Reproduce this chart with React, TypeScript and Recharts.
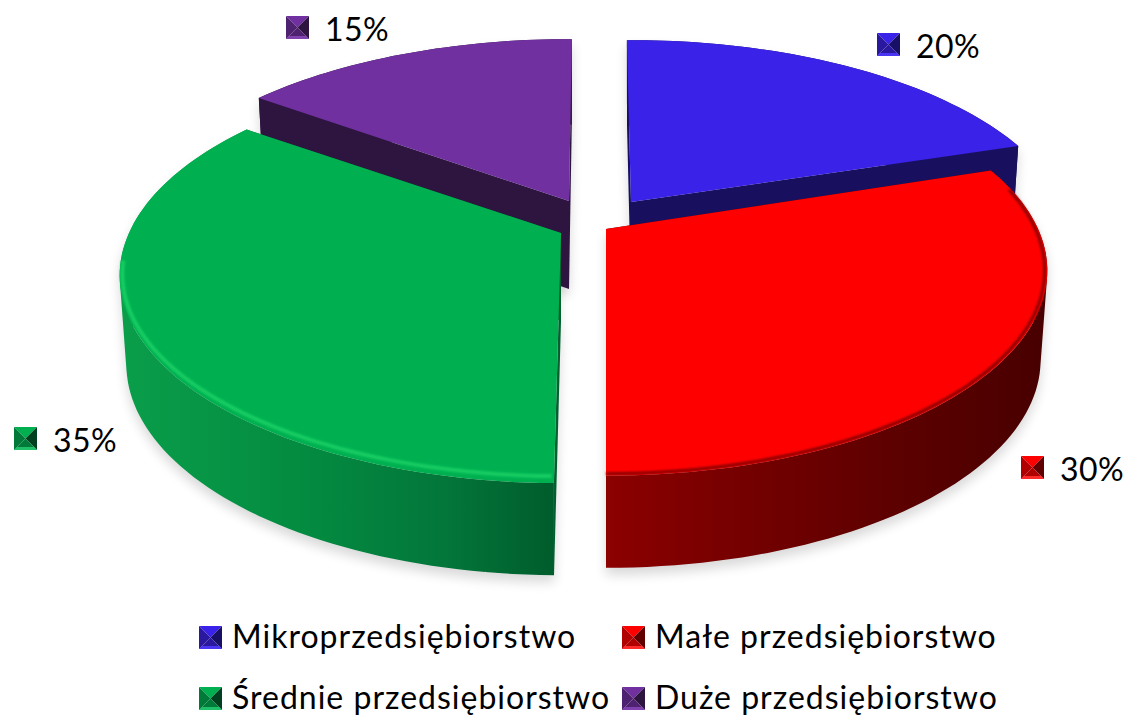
import { PieChart, Pie, Legend } from 'recharts';

const CATEGORIES = ['Mikroprzedsiębiorstwo', 'Małe przedsiębiorstwo', 'Średnie przedsiębiorstwo', 'Duże przedsiębiorstwo'];
const SHARES = [20, 30, 35, 15];
// painter's order: back slices first, so the front ones cover their walls
const DRAW_ORDER = [3, 0, 1, 2];

const pieData = DRAW_ORDER.map((i) => ({ name: CATEGORIES[i], value: SHARES[i] }));

const WIDTH = 1129;
const HEIGHT = 715;
const CENTER = { x: 590, y: 217 };
const RADIUS = 432;

// perspective of the pie plane
const PERSPECTIVE = 0.204;
const TILT = 0.451;
const WALL = 88;
const BOTTOM_NARROW = 0.985;

// per slice look, same order as CATEGORIES
const EXPLODE = [[41, -15], [16, 12], [-29, 16], [-21, -16]];
const SPIN = [[-0.65, 0.2], [-0.5, 0], [0.75, -0.5], [0.4, 0.45]];
const STRETCH = [1, 1.008, 1.022, 1];
const TOP_FILL = ['#3a22e8', '#ff0000', '#00b050', '#7030a0'];
const WALL_FILL = ['#18105f', '#4d0000', '#006030', '#2e1540'];
const SIDE_FILL = ['url(#sideBlue)', 'url(#sideRed)', 'url(#sideGreen)', 'url(#sidePurple)'];
const RIM = [null, { from: 78, to: 180, stroke: '#8a0000', width: 3 }, { from: 181, to: 262, stroke: '#14cc62', width: 4 }, null];
const MARKER_TONES = [
  ['#3a22e8', '#2a189f', '#181066', '#4a36f2'],
  ['#ff0000', '#b00000', '#600000', '#ff2a2a'],
  ['#00b050', '#007a38', '#00401e', '#20c068'],
  ['#7030a0', '#4e2270', '#2e1540', '#7f42ae'],
];
const LABEL_AT = [[877, 33], [1021, 456], [14, 427], [286, 16]];
const LEGEND_AT = [[199, 11], [622, 11], [199, 72], [622, 72]];

const FONT = 'Lato, sans-serif';

function point(theta: number, r: number, cx: number, cy: number, R: number, lower: boolean, stretch = 1) {
  const rad = (theta * Math.PI) / 180;
  const X = Math.sin(rad) * r;
  const Z = -Math.cos(rad) * r;
  const s = 1 / (1 - PERSPECTIVE * Z);
  return {
    x: cx + R * X * s * (lower ? BOTTOM_NARROW : 1),
    y: cy + R * TILT * Z * s * stretch + (lower ? WALL + (s - 1) * 16 : 0),
    z: Z,
  };
}

function arc(from: number, to: number, cx: number, cy: number, R: number, lower: boolean, stretch = 1) {
  const pts = [];
  const steps = Math.max(2, Math.ceil(Math.abs(to - from) / 1.5));
  for (let i = 0; i <= steps; i++) {
    pts.push(point(from + ((to - from) * i) / steps, 1, cx, cy, R, lower, stretch));
  }
  return pts;
}

const toPath = (pts: { x: number; y: number }[]) =>
  'M' + pts.map((p) => `${p.x.toFixed(1)},${p.y.toFixed(1)}`).join('L') + 'Z';
const toLine = (pts: { x: number; y: number }[]) =>
  'M' + pts.map((p) => `${p.x.toFixed(1)},${p.y.toFixed(1)}`).join('L');

// the outer wall as one quad per arc step, so the silhouette past the widest point is filled
function wallPath(topArc: { x: number; y: number }[], lowArc: { x: number; y: number }[]) {
  let d = '';
  for (let i = 0; i < topArc.length - 1; i++) {
    const quad = [topArc[i], topArc[i + 1], lowArc[i + 1], lowArc[i]];
    const area = quad.reduce((sum, p, k) => {
      const q = quad[(k + 1) % 4];
      return sum + p.x * q.y - q.x * p.y;
    }, 0);
    d += toPath(area < 0 ? [...quad].reverse() : quad);
  }
  return d;
}

function sliceGeometry(props: any) {
  const idx = CATEGORIES.indexOf(props.name ?? props.payload?.name);
  const cx = props.cx + EXPLODE[idx][0];
  const cy = props.cy + EXPLODE[idx][1];
  const R = props.outerRadius;
  const from = 90 - props.startAngle + SPIN[idx][0];
  const to = 90 - props.endAngle + SPIN[idx][1];
  const apexTop = point(0, 0, cx, cy, R, false);
  const apexLow = point(0, 0, cx, cy, R, true);
  const topArc = arc(from, to, cx, cy, R, false, STRETCH[idx]);
  const lowArc = arc(from, to, cx, cy, R, true, STRETCH[idx]);
  return { idx, cx, cy, R, from, to, apexTop, apexLow, topArc, lowArc };
}

function ShadowSlice(props: any) {
  const { apexTop, apexLow, topArc, lowArc } = sliceGeometry(props);
  return (
    <g filter="url(#softShadow)" opacity={0.15} transform="translate(0,7)">
      <path d={toPath([apexLow, ...lowArc])} fill="#000" />
      <path d={wallPath(topArc, lowArc)} fill="#000" />
      <path d={toPath([apexTop, ...topArc])} fill="#000" />
    </g>
  );
}

function SolidSlice(props: any) {
  const { idx, cx, cy, R, apexTop, apexLow, topArc, lowArc } = sliceGeometry(props);
  const rim = RIM[idx];
  const wallDark = WALL_FILL[idx];
  const firstTop = topArc[0];
  const firstLow = lowArc[0];
  const lastTop = topArc[topArc.length - 1];
  const lastLow = lowArc[lowArc.length - 1];
  let rimPts: { x: number; y: number }[] = [];
  if (rim) {
    // the bevel only shows on the near edge, it lifts off towards the viewer
    rimPts = arc(rim.from, rim.to, cx, cy, R, false, STRETCH[idx]).map((p) => ({
      x: cx + (p.x - cx) * 0.994,
      y: p.y - (idx === 2 ? 7 : 2) * Math.max(0, p.z),
    }));
  }
  return (
    <g>
      <path d={toPath([firstTop, apexTop, apexLow, firstLow])} fill={wallDark} />
      <path d={toPath([lastTop, apexTop, apexLow, lastLow])} fill={wallDark} />
      <path d={wallPath(topArc, lowArc)} fill={SIDE_FILL[idx]} />
      <path d={toPath([apexTop, ...topArc])} fill={TOP_FILL[idx]} />
      {rim && (
        <path d={toLine(rimPts)} fill="none" stroke={rim.stroke} strokeWidth={rim.width} filter="url(#rimBlur)" />
      )}
    </g>
  );
}

function Marker({ x, y, idx }: { x: number; y: number; idx: number }) {
  const size = 23;
  const [top, left, right, bottom] = MARKER_TONES[idx];
  const mx = x + size / 2;
  const my = y + size / 2;
  return (
    <g>
      <polygon points={`${x},${y} ${x + size},${y} ${mx},${my}`} fill={top} />
      <polygon points={`${x},${y} ${mx},${my} ${x},${y + size}`} fill={left} />
      <polygon points={`${x + size},${y} ${x + size},${y + size} ${mx},${my}`} fill={right} />
      <polygon points={`${x},${y + size} ${mx},${my} ${x + size},${y + size}`} fill={left} />
      <polygon points={`${x + 3},${y + size - 3} ${x + size - 3},${y + size - 3} ${x + size},${y + size} ${x},${y + size}`} fill={bottom} />
    </g>
  );
}

function ValueLabel(props: any) {
  const idx = CATEGORIES.indexOf(props.name ?? props.payload?.name);
  const [x, y] = LABEL_AT[idx];
  return (
    <g>
      <Marker x={x} y={y} idx={idx} />
      <text x={x + 39} y={y + 25} fontFamily={FONT} fontSize={32} letterSpacing={0.4} fill="#000" textAnchor="start">
        {`${SHARES[idx]}%`}
      </text>
    </g>
  );
}

function LegendRows() {
  return (
    <svg width={WIDTH} height={100} style={{ display: 'block' }}>
      {CATEGORIES.map((name, i) => (
        <g key={name}>
          <Marker x={LEGEND_AT[i][0]} y={LEGEND_AT[i][1]} idx={i} />
          <text x={LEGEND_AT[i][0] + 33} y={LEGEND_AT[i][1] + 22} fontFamily={FONT} fontSize={32} letterSpacing={1} fill="#000">
            {name}
          </text>
        </g>
      ))}
    </svg>
  );
}

export default function App() {
  return (
    <div style={{ position: 'absolute', left: 0, top: 0, width: WIDTH, height: HEIGHT, background: '#fff' }}>
      <PieChart width={WIDTH} height={HEIGHT} margin={{ top: 0, right: 0, bottom: 0, left: 0 }}>
        <defs>
          <filter id="softShadow" x="-15%" y="-15%" width="130%" height="130%">
            <feGaussianBlur stdDeviation="6" />
          </filter>
          <filter id="rimBlur" x="-5%" y="-5%" width="110%" height="110%">
            <feGaussianBlur stdDeviation="1.2" />
          </filter>
          <linearGradient id="sideGreen" gradientUnits="userSpaceOnUse" x1="117" y1="0" x2="555" y2="0">
            <stop offset="0%" stopColor="#0a9e4a" />
            <stop offset="45%" stopColor="#038a40" />
            <stop offset="75%" stopColor="#03763a" />
            <stop offset="100%" stopColor="#005c2c" />
          </linearGradient>
          <linearGradient id="sideRed" gradientUnits="userSpaceOnUse" x1="607" y1="0" x2="1047" y2="0">
            <stop offset="0%" stopColor="#8c0000" />
            <stop offset="35%" stopColor="#720000" />
            <stop offset="70%" stopColor="#5a0000" />
            <stop offset="100%" stopColor="#480000" />
          </linearGradient>
          <linearGradient id="sideBlue" gradientUnits="userSpaceOnUse" x1="627" y1="0" x2="1015" y2="0">
            <stop offset="0%" stopColor="#18105f" />
            <stop offset="100%" stopColor="#18105f" />
          </linearGradient>
          <linearGradient id="sidePurple" gradientUnits="userSpaceOnUse" x1="258" y1="0" x2="572" y2="0">
            <stop offset="0%" stopColor="#2e1540" />
            <stop offset="100%" stopColor="#2e1540" />
          </linearGradient>
        </defs>
        <Pie
          data={pieData}
          dataKey="value"
          nameKey="name"
          cx={CENTER.x}
          cy={CENTER.y}
          innerRadius={0}
          outerRadius={RADIUS}
          startAngle={144}
          endAngle={-216}
          stroke="none"
          legendType="none"
          isAnimationActive={false}
          shape={ShadowSlice}
          inactiveShape={ShadowSlice}
          activeShape={ShadowSlice}
        />
        <Pie
          data={pieData}
          dataKey="value"
          nameKey="name"
          cx={CENTER.x}
          cy={CENTER.y}
          innerRadius={0}
          outerRadius={RADIUS}
          startAngle={144}
          endAngle={-216}
          stroke="none"
          isAnimationActive={false}
          label={ValueLabel}
          labelLine={false}
          shape={SolidSlice}
          inactiveShape={SolidSlice}
          activeShape={SolidSlice}
        />
        <Legend
          content={<LegendRows />}
          wrapperStyle={{ position: 'absolute', left: 0, top: 615, width: WIDTH, height: 100 }}
        />
      </PieChart>
    </div>
  );
}
